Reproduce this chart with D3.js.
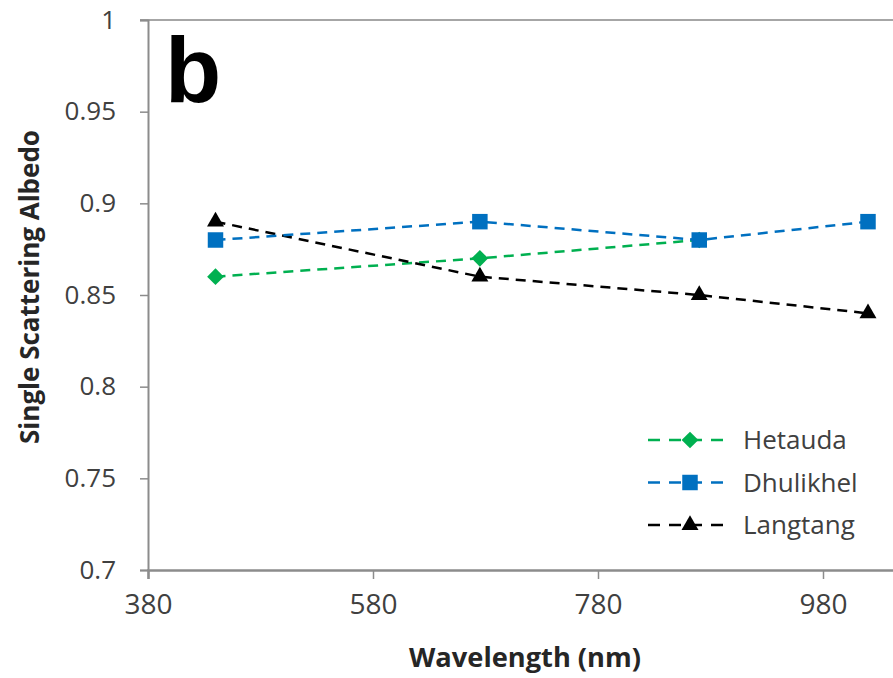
<!DOCTYPE html>
<html>
<head>
<meta charset="utf-8">
<script src="https://cdn.jsdelivr.net/npm/d3@7"></script>
<style>
  html, body { margin: 0; padding: 0; background: #fff; }
  svg { display: block; }
</style>
</head>
<body>
<div id="chart"></div>
<script>
// Wavelengths (nm) and single scattering albedo per site
const wavelengths = [440, 675, 870, 1020];
const hetauda   = [0.86, 0.87, 0.88, null];
const dhulikhel = [0.88, 0.89, 0.88, 0.89];
const langtang  = [0.89, 0.86, 0.85, 0.84];
const seriesNames = ["Hetauda", "Dhulikhel", "Langtang"];
const xTicks = [380, 580, 780, 980];
const yTicks = [0.7, 0.75, 0.8, 0.85, 0.9, 0.95, 1];

const W = 893, H = 678;
const margin = { left: 148, top: 20, bottom: 108 };

const svg = d3.select("#chart").append("svg")
  .attr("width", W).attr("height", H);

const x = d3.scaleLinear().domain([380, 1080]).range([margin.left, margin.left + 700 * 1.125]);
const y = d3.scaleLinear().domain([0.7, 1]).range([H - margin.bottom, margin.top]);

const axisColor = "#8c8c8c";
const font = "'Open Sans', 'Noto Sans', sans-serif";

// Grow or shrink a text node's font until it spans the given width
function fitWidth(sel, target, start, maxSize) {
  sel.style("font-size", start + "px");
  const w = sel.node().getComputedTextLength();
  const size = Math.min(start * target / w, maxSize);
  sel.style("font-size", size.toFixed(2) + "px");
  return sel;
}

// Top boundary line at 1.0
svg.append("line")
  .attr("x1", x(380) - 8).attr("x2", W)
  .attr("y1", y(1)).attr("y2", y(1))
  .attr("stroke", "#a6a6a6").attr("stroke-width", 2);

// Y axis
const yAxis = svg.append("g")
  .attr("transform", `translate(${x(380)},0)`)
  .call(d3.axisLeft(y).tickValues(yTicks).tickSize(8).tickPadding(24)
    .tickFormat(d => d === 1 ? "1" : String(+d.toFixed(2))));
yAxis.select(".domain").attr("stroke", axisColor).attr("stroke-width", 2);
yAxis.selectAll(".tick line").attr("stroke", axisColor).attr("stroke-width", 1.5);
yAxis.selectAll(".tick text").attr("fill", "#404040")
  .style("font-family", font).style("font-size", "26px");

// X axis
const xAxis = svg.append("g")
  .attr("transform", `translate(0,${y(0.7)})`)
  .call(d3.axisBottom(x).tickValues(xTicks).tickSize(9).tickPadding(15).tickFormat(d3.format("d")));
xAxis.select(".domain").attr("stroke", axisColor).attr("stroke-width", 2.5);
xAxis.selectAll(".tick line").attr("stroke", axisColor).attr("stroke-width", 1.5);
xAxis.selectAll(".tick text").attr("fill", "#404040")
  .style("font-family", font).style("font-size", "28px");

// Axis titles
const xTitle = svg.append("text")
  .attr("x", 525).attr("y", 667)
  .attr("text-anchor", "middle")
  .style("font-family", font).style("font-weight", "bold")
  .attr("fill", "#262626")
  .text("Wavelength (nm)");
fitWidth(xTitle, 232, 28, 28);

const yTitle = svg.append("text")
  .attr("transform", `translate(39,287) rotate(-90)`)
  .attr("text-anchor", "middle")
  .style("font-family", font).style("font-weight", "bold")
  .attr("fill", "#262626")
  .text("Single Scattering Albedo");
fitWidth(yTitle, 345, 28, 26);

// Panel letter
svg.append("text")
  .attr("x", 165).attr("y", 102)
  .style("font-family", "'Liberation Sans', Arial, sans-serif")
  .style("font-weight", "bold").style("font-size", "92px")
  .attr("fill", "#000")
  .text("b");

// Diamond drawn as a square turned 45 degrees
const diamond = {
  draw(ctx, size) {
    const r = Math.sqrt(size / 2);
    ctx.moveTo(0, -r); ctx.lineTo(r, 0); ctx.lineTo(0, r); ctx.lineTo(-r, 0); ctx.closePath();
  }
};

const series = [
  { name: seriesNames[0], values: hetauda,   color: "#00b050", shape: diamond,          size: 140 },
  { name: seriesNames[1], values: dhulikhel, color: "#0070c0", shape: d3.symbolSquare,   size: 240 },
  { name: seriesNames[2], values: langtang,  color: "#000000", shape: d3.symbolTriangle, size: 125 }
];

const line = d3.line()
  .defined(d => d.v != null)
  .x(d => x(d.w)).y(d => y(d.v));

// Draw back to front so Dhulikhel squares sit over Hetauda
const drawOrder = [series[0], series[2], series[1]];
drawOrder.forEach(s => {
  const pts = wavelengths.map((w, i) => ({ w, v: s.values[i] }));
  svg.append("path")
    .datum(pts)
    .attr("fill", "none")
    .attr("stroke", s.color).attr("stroke-width", 2.5)
    .attr("stroke-dasharray", "10,7")
    .attr("d", line);
  svg.selectAll(null)
    .data(pts.filter(d => d.v != null))
    .enter().append("path")
    .attr("transform", d => `translate(${x(d.w)},${y(d.v)})`)
    .attr("d", d3.symbol().type(s.shape).size(s.size))
    .attr("fill", s.color);
});

// Legend
const legend = svg.append("g");
series.forEach((s, i) => {
  const ly = 440 + i * 42.5;
  legend.append("line")
    .attr("x1", 648).attr("x2", 727).attr("y1", ly).attr("y2", ly)
    .attr("stroke", s.color).attr("stroke-width", 2.5)
    .attr("stroke-dasharray", "12,9");
  legend.append("path")
    .attr("transform", `translate(690,${ly})`)
    .attr("d", d3.symbol().type(s.shape).size(s.size))
    .attr("fill", s.color);
  legend.append("text")
    .attr("x", 743).attr("y", ly + 9)
    .style("font-family", font).style("font-size", "26px")
    .attr("fill", "#404040")
    .text(s.name);
});
</script>
</body>
</html>
